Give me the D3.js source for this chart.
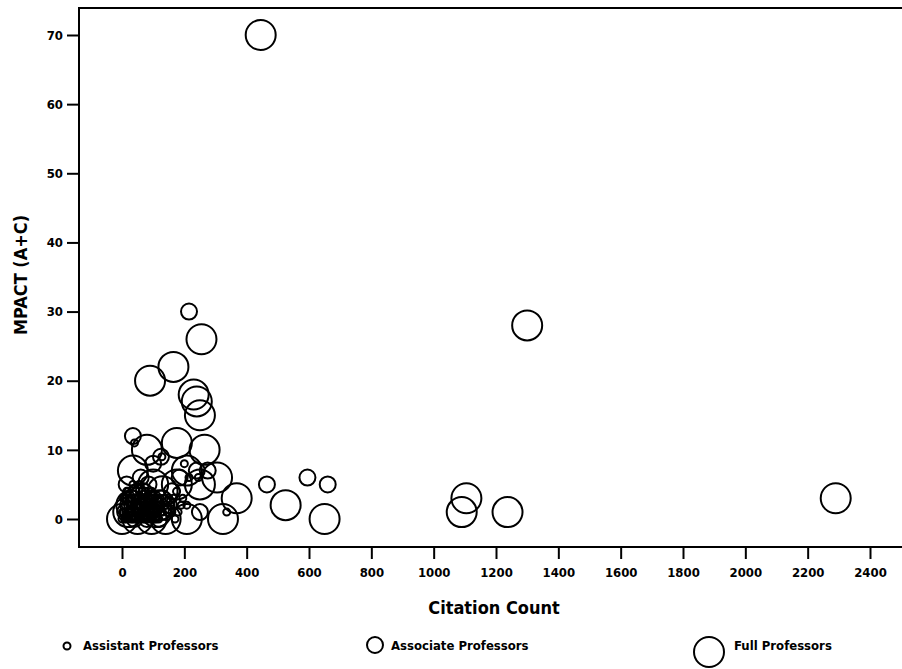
<!DOCTYPE html>
<html>
<head>
<meta charset="utf-8">
<script src="https://cdn.jsdelivr.net/npm/d3@7"></script>
<style>
  body { margin: 0; background: #fff; }
  svg text { font-family: "DejaVu Sans Condensed", "Liberation Sans Narrow", "Liberation Sans", sans-serif; font-weight: bold; fill: #000; }
</style>
</head>
<body>
<div id="chart"></div>
<script>
// citation count, MPACT (A+C)
const assistantProfs = [
  [0, 0], [5, 1], [10, 2], [15, 0], [20, 1], [25, 3], [30, 2], [35, 0], [40, 1], [45, 4],
  [50, 2], [55, 0], [60, 3], [65, 1], [70, 2], [75, 0], [80, 1], [85, 3], [90, 2], [100, 1],
  [110, 0], [120, 2], [130, 1], [15, 4], [35, 5], [55, 5], [75, 4], [40, 3], [10, 3], [60, 1],
  [95, 4], [105, 3], [115, 1], [140, 2], [150, 3], [160, 1], [175, 4], [190, 2], [208, 2],
  [336, 1], [40, 11], [128, 9], [200, 8], [215, 6], [245, 6],
  [2, 1], [8, 0], [12, 1], [18, 2], [22, 0], [28, 1], [32, 3], [38, 2], [42, 0], [48, 1],
  [52, 3], [58, 2], [62, 0], [68, 3], [72, 1], [78, 2], [82, 0], [88, 1], [92, 3], [98, 0],
  [102, 2], [108, 1], [112, 2], [118, 0], [122, 3], [5, 3], [20, 4], [30, 0], [45, 2], [65, 4],
  [85, 2], [95, 1], [105, 0], [125, 1], [135, 3], [25, 2], [50, 0], [70, 0], [90, 0], [115, 3],
  [145, 1], [155, 2], [165, 3], [180, 1], [195, 3], [170, 0]
];
const associateProfs = [
  [215, 30], [35, 12], [465, 5], [595, 6], [660, 5], [240, 7], [275, 7],
  [20, 2], [50, 4], [90, 1], [130, 3], [60, 6], [100, 8], [150, 2], [185, 6], [250, 1], [125, 9],
  [10, 1], [30, 3], [40, 0], [60, 2], [70, 4], [80, 0], [100, 3], [110, 2], [120, 0], [140, 1],
  [15, 5], [45, 1], [85, 5], [160, 4]
];
const fullProfs = [
  [445, 70], [1300, 28], [2290, 3], [1090, 1], [1105, 3], [1237, 1],
  [255, 26], [165, 22], [90, 20], [230, 18], [240, 17], [250, 15],
  [265, 10], [176, 11], [80, 10], [35, 7], [305, 6], [368, 3], [525, 2], [650, 0],
  [324, 0], [208, 0], [0, 0], [20, 1], [50, 0], [80, 2], [110, 1], [130, 4],
  [176, 5], [100, 5], [250, 5], [208, 7], [140, 0], [60, 3], [30, 2], [95, 0], [120, 2]
];
const xTicks = d3.range(0, 2401, 200);
const yTicks = d3.range(0, 71, 10);
const legendItems = ["Assistant Professors", "Associate Professors", "Full Professors"];

const width = 902, height = 669;
const frame = { left: 79, top: 8, bottom: 547 };

const svg = d3.select("#chart").append("svg")
  .attr("width", width)
  .attr("height", height);

const x = d3.scaleLinear().domain([0, 2400]).range([122, 870]);
const y = d3.scaleLinear().domain([0, 70]).range([519, 35]);
const r = d3.scaleOrdinal().domain(legendItems).range([3.5, 8, 15]);

// frame (right side is cut off in the original)
svg.append("path")
  .attr("d", `M${width + 5},${frame.top}H${frame.left}V${frame.bottom}H${width + 5}`)
  .attr("fill", "none")
  .attr("stroke", "#000")
  .attr("stroke-width", 2);

// axes
const xAxis = svg.append("g")
  .attr("transform", `translate(0, ${frame.bottom})`)
  .call(d3.axisBottom(x).tickValues(xTicks).tickSize(12).tickPadding(9).tickFormat(d3.format("d")));
const yAxis = svg.append("g")
  .attr("transform", `translate(${frame.left}, 0)`)
  .call(d3.axisLeft(y).tickValues(yTicks).tickSize(12).tickPadding(4));

[xAxis, yAxis].forEach(g => {
  g.select(".domain").remove();
  g.selectAll(".tick line").attr("stroke", "#000").attr("stroke-width", 2);
  g.selectAll(".tick text").style("font-size", "13px").attr("fill", "#000");
});

// bubbles
const groups = [
  { name: legendItems[0], data: assistantProfs },
  { name: legendItems[1], data: associateProfs },
  { name: legendItems[2], data: fullProfs }
];

groups.slice().reverse().forEach(grp => {
  svg.append("g").selectAll("circle")
    .data(grp.data)
    .join("circle")
    .attr("cx", d => x(d[0]))
    .attr("cy", d => y(d[1]))
    .attr("r", r(grp.name))
    .attr("fill", "none")
    .attr("stroke", "#000")
    .attr("stroke-width", 2);
});

// axis titles
svg.append("text")
  .attr("x", 494)
  .attr("y", 614)
  .attr("text-anchor", "middle")
  .style("font-size", "18px")
  .text("Citation Count");

svg.append("text")
  .attr("transform", "translate(27, 275) rotate(-90)")
  .attr("text-anchor", "middle")
  .style("font-size", "18px")
  .text("MPACT (A+C)");

// legend
const legendPos = [
  { cx: 67, cy: 646, tx: 83 },
  { cx: 375, cy: 645, tx: 391 },
  { cx: 709, cy: 652, tx: 734 }
];
const legend = svg.append("g").selectAll("g")
  .data(legendItems)
  .join("g");

legend.append("circle")
  .attr("cx", (d, i) => legendPos[i].cx)
  .attr("cy", (d, i) => legendPos[i].cy)
  .attr("r", d => r(d))
  .attr("fill", "none")
  .attr("stroke", "#000")
  .attr("stroke-width", 2);

legend.append("text")
  .attr("x", (d, i) => legendPos[i].tx)
  .attr("y", 650)
  .style("font-size", "13px")
  .text(d => d);
</script>
</body>
</html>
